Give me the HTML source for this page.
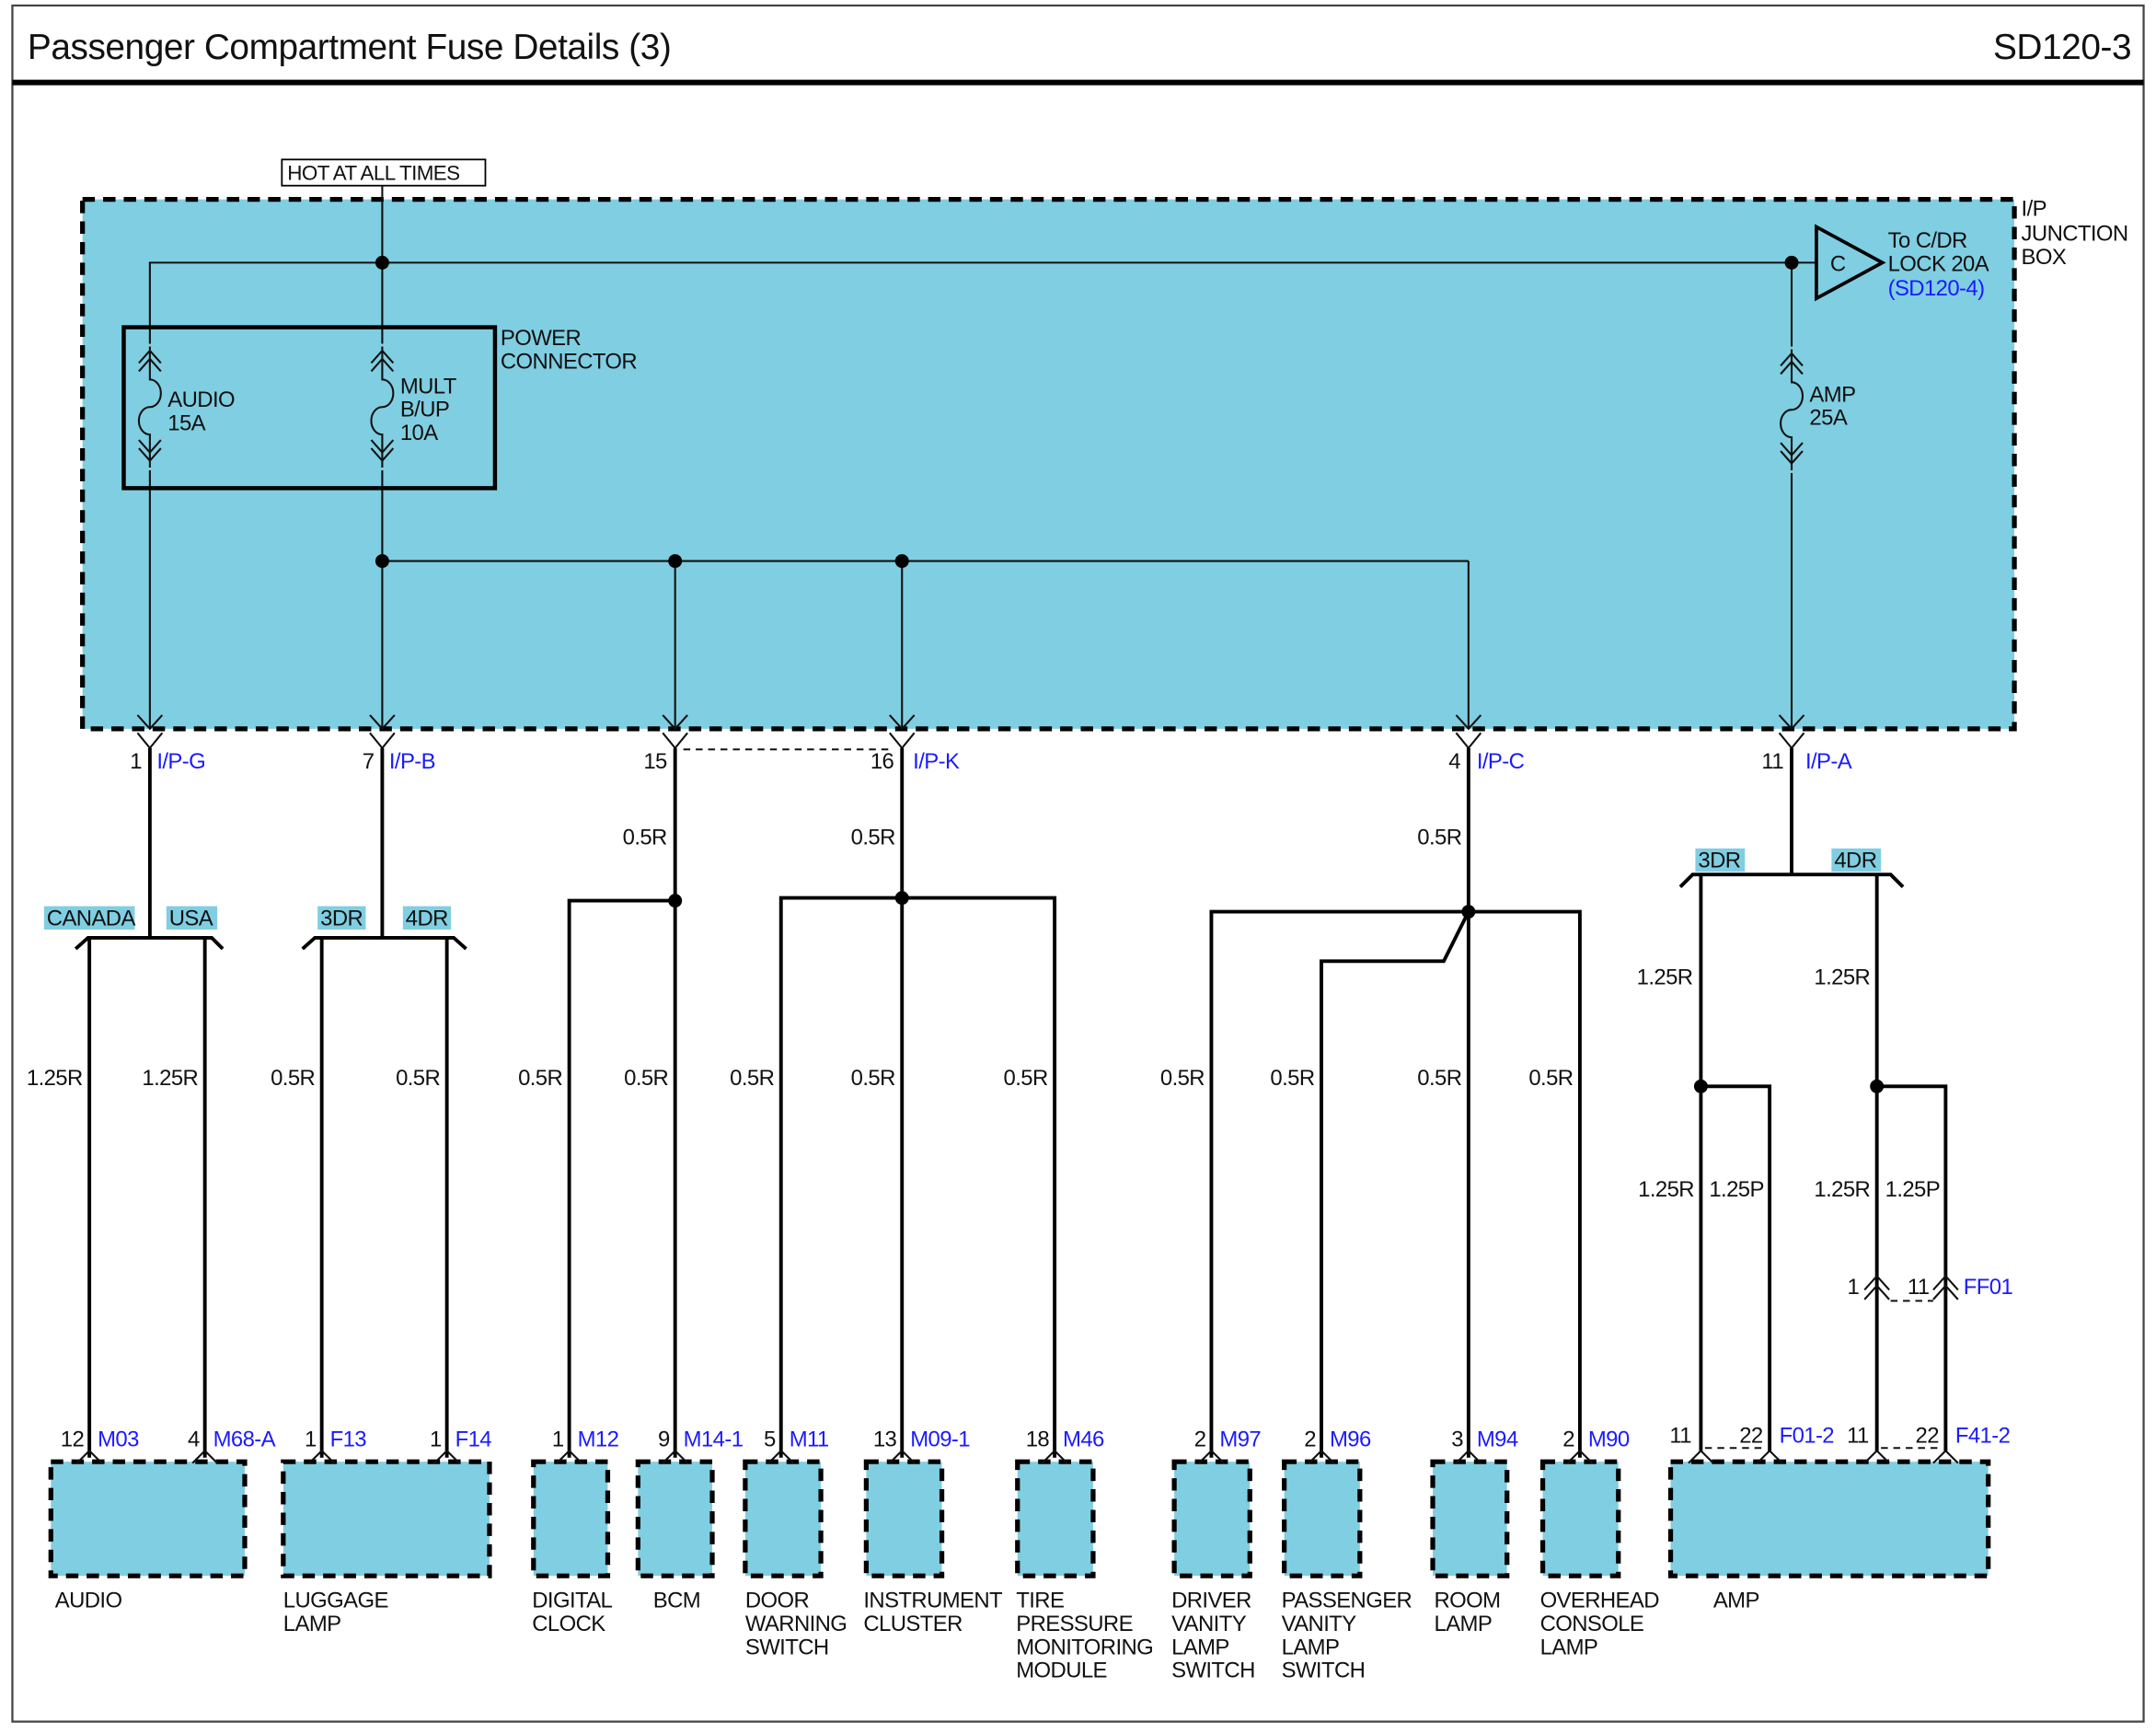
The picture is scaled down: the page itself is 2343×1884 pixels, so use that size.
<!DOCTYPE html>
<html><head><meta charset="utf-8"><style>
html,body{margin:0;padding:0;background:#fff}
svg{display:block}
text{font-family:"Liberation Sans",Arial,sans-serif;font-size:16px;fill:#111;letter-spacing:-0.4px}
.b{fill:#1a1aff}
.w{stroke:#000;stroke-width:2.6;fill:none}
.t{stroke:#111;stroke-width:1.4;fill:none}
.box{fill:#80cee1;stroke:#000;stroke-width:3.5;stroke-dasharray:9,6}
.tag{fill:#80cee1}
</style></head><body>
<svg width="2343" height="1884" viewBox="0 0 1568 1261" preserveAspectRatio="none" xmlns="http://www.w3.org/2000/svg">
<rect x="9" y="4" width="1550" height="1248" fill="#fff" stroke="#444" stroke-width="1.5"/>
<line x1="9" y1="60" x2="1559" y2="60" stroke="#000" stroke-width="4"/>
<text x="20" y="43" style="font-size:26px;letter-spacing:-0.3px">Passenger Compartment Fuse Details (3)</text>
<text x="1550" y="43" text-anchor="end" style="font-size:26px;letter-spacing:-0.3px">SD120-3</text>

<rect class="box" x="60" y="145" width="1405" height="385"/>
<rect x="205" y="116" width="148" height="19" fill="#fff" stroke="#000" stroke-width="1.2"/>
<text x="209" y="131" style="font-size:15px">HOT AT ALL TIMES</text>
<text x="1470" y="157">I/P</text><text x="1470" y="175">JUNCTION</text><text x="1470" y="192">BOX</text>

<g class="t">
<line x1="278" y1="135" x2="278" y2="530"/>
<polyline points="109,530 109,191 1320,191"/>
<line x1="1303" y1="191" x2="1303" y2="530"/>
<line x1="278" y1="408" x2="1068" y2="408"/>
<line x1="491" y1="408" x2="491" y2="530"/>
<line x1="656" y1="408" x2="656" y2="530"/>
<line x1="1068" y1="408" x2="1068" y2="530"/>
</g>
<g fill="#000"><circle cx="278" cy="191" r="5"/><circle cx="1303" cy="191" r="5"/><circle cx="278" cy="408" r="5"/><circle cx="491" cy="408" r="5"/><circle cx="656" cy="408" r="5"/></g>
<polygon points="1321,165 1321,217 1369,191" fill="#80cee1" stroke="#000" stroke-width="2.5"/>
<text x="1331" y="197">C</text>
<text x="1373" y="180">To C/DR</text><text x="1373" y="197">LOCK 20A</text><text x="1373" y="215" class="b">(SD120-4)</text>

<rect x="90" y="238" width="270" height="117" fill="none" stroke="#000" stroke-width="3"/>
<text x="364" y="251">POWER</text><text x="364" y="268">CONNECTOR</text>

<g fill="#80cee1">
<rect x="98" y="250" width="22" height="92"/>
<rect x="267" y="250" width="22" height="92"/>
<rect x="1292" y="252" width="22" height="92"/>
</g>
<g class="t">
<path d="M109,252 V276 a8,10 0 0 1 0,20 a8,10 0 0 0 0,20 V340 M101,264 L109,255 L117,264 M101,270 L109,261 L117,270 M101,320 L109,329 L117,320 M101,326 L109,335 L117,326"/>
<path d="M278,252 V276 a8,10 0 0 1 0,20 a8,10 0 0 0 0,20 V340 M270,264 L278,255 L286,264 M270,270 L278,261 L286,270 M270,320 L278,329 L286,320 M270,326 L278,335 L286,326"/>
<path d="M1303,254 V278 a8,10 0 0 1 0,20 a8,10 0 0 0 0,20 V342 M1295,266 L1303,257 L1311,266 M1295,272 L1303,263 L1311,272 M1295,322 L1303,331 L1311,322 M1295,328 L1303,337 L1311,328"/>
</g>
<text x="122" y="296">AUDIO</text><text x="122" y="313">15A</text>
<text x="291" y="286">MULT</text><text x="291" y="303">B/UP</text><text x="291" y="320">10A</text>
<text x="1316" y="292">AMP</text><text x="1316" y="309">25A</text>

<g class="t">
<path d="M100,520 L109,530 L118,520 M269,520 L278,530 L287,520 M482,520 L491,530 L500,520 M647,520 L656,530 L665,520 M1059,520 L1068,530 L1077,520 M1294,520 L1303,530 L1312,520"/>
<path d="M100,533 L109,544 L118,533 M269,533 L278,544 L287,533 M482,533 L491,544 L500,533 M647,533 L656,544 L665,533 M1059,533 L1068,544 L1077,533 M1294,533 L1303,544 L1312,533"/>
<line x1="497" y1="545" x2="650" y2="545" stroke-dasharray="5,4"/>
</g>
<text x="103" y="559" text-anchor="end">1</text><text x="114" y="559" class="b">I/P-G</text>
<text x="272" y="559" text-anchor="end">7</text><text x="283" y="559" class="b">I/P-B</text>
<text x="485" y="559" text-anchor="end">15</text>
<text x="650" y="559" text-anchor="end">16</text><text x="664" y="559" class="b">I/P-K</text>
<text x="1062" y="559" text-anchor="end">4</text><text x="1074" y="559" class="b">I/P-C</text>
<text x="1297" y="559" text-anchor="end">11</text><text x="1313" y="559" class="b">I/P-A</text>

<g class="w">
<line x1="109" y1="544" x2="109" y2="682"/>
<polyline points="55,690 64,682 154,682 162,690"/>
<line x1="65" y1="682" x2="65" y2="1060"/><line x1="149" y1="682" x2="149" y2="1060"/>
<line x1="278" y1="544" x2="278" y2="682"/>
<polyline points="220,690 229,682 330,682 339,690"/>
<line x1="234" y1="682" x2="234" y2="1060"/><line x1="325" y1="682" x2="325" y2="1060"/>
<line x1="491" y1="544" x2="491" y2="1060"/>
<polyline points="414,1060 414,655 491,655"/>
<line x1="656" y1="544" x2="656" y2="1060"/>
<polyline points="568,1060 568,653 767,653 767,1060"/>
<line x1="1068" y1="544" x2="1068" y2="1060"/>
<polyline points="881,1060 881,663 1149,663 1149,1060"/>
<polyline points="1068,663 1050,699 961,699 961,1060"/>
<line x1="1303" y1="544" x2="1303" y2="636"/>
<polyline points="1222,645 1231,636 1375,636 1384,645"/>
<line x1="1237" y1="636" x2="1237" y2="1056"/>
<polyline points="1237,790 1287,790 1287,1056"/>
<line x1="1365" y1="636" x2="1365" y2="1056"/>
<polyline points="1365,790 1415,790 1415,1056"/>
</g>
<g fill="#000">
<circle cx="491" cy="655" r="5"/><circle cx="656" cy="653" r="5"/><circle cx="1068" cy="663" r="5"/>
<circle cx="1237" cy="790" r="5"/><circle cx="1365" cy="790" r="5"/>
</g>
<rect class="tag" x="32" y="659" width="66" height="17"/><text x="34" y="673">CANADA</text>
<rect class="tag" x="121" y="659" width="37" height="17"/><text x="123" y="673">USA</text>
<rect class="tag" x="231" y="659" width="35" height="17"/><text x="233" y="673">3DR</text>
<rect class="tag" x="293" y="659" width="35" height="17"/><text x="295" y="673">4DR</text>
<rect class="tag" x="1233" y="617" width="36" height="17"/><text x="1235" y="631">3DR</text>
<rect class="tag" x="1332" y="617" width="36" height="17"/><text x="1334" y="631">4DR</text>

<g text-anchor="end">
<text x="60" y="789">1.25R</text><text x="144" y="789">1.25R</text>
<text x="229" y="789">0.5R</text><text x="320" y="789">0.5R</text>
<text x="485" y="614">0.5R</text><text x="409" y="789">0.5R</text><text x="486" y="789">0.5R</text>
<text x="651" y="614">0.5R</text><text x="563" y="789">0.5R</text><text x="651" y="789">0.5R</text><text x="762" y="789">0.5R</text>
<text x="1063" y="614">0.5R</text><text x="876" y="789">0.5R</text><text x="956" y="789">0.5R</text><text x="1063" y="789">0.5R</text><text x="1144" y="789">0.5R</text>
<text x="1231" y="716">1.25R</text><text x="1360" y="716">1.25R</text>
<text x="1232" y="870">1.25R</text><text x="1360" y="870">1.25R</text>
</g>
<text x="1243" y="870">1.25P</text><text x="1371" y="870">1.25P</text>

<g class="t" stroke-width="1.6">
<path d="M1356,938 L1365,928 L1374,938 M1356,945 L1365,935 L1374,945 M1406,938 L1415,928 L1424,938 M1406,945 L1415,935 L1424,945"/>
<line x1="1375" y1="946" x2="1406" y2="946" stroke-dasharray="5,4"/>
</g>
<text x="1352" y="941" text-anchor="end">1</text><text x="1403" y="941" text-anchor="end">11</text><text x="1428" y="941" class="b">FF01</text>

<rect class="box" x="37" y="1063" width="141" height="83"/>
<rect class="box" x="206" y="1063" width="150" height="83"/>
<rect class="box" x="388" y="1063" width="54" height="83"/>
<rect class="box" x="464" y="1063" width="54" height="83"/>
<rect class="box" x="542" y="1063" width="55" height="83"/>
<rect class="box" x="630" y="1063" width="55" height="83"/>
<rect class="box" x="740" y="1063" width="55" height="83"/>
<rect class="box" x="854" y="1063" width="55" height="83"/>
<rect class="box" x="934" y="1063" width="55" height="83"/>
<rect class="box" x="1042" y="1063" width="54" height="83"/>
<rect class="box" x="1122" y="1063" width="55" height="83"/>
<rect class="box" x="1215" y="1063" width="231" height="83"/>

<g class="t" stroke-width="1.8">
<path d="M56,1064 L65,1055 L74,1064 M140,1064 L149,1055 L158,1064 M225,1064 L234,1055 L243,1064 M316,1064 L325,1055 L334,1064 M405,1064 L414,1055 L423,1064 M482,1064 L491,1055 L500,1064 M559,1064 L568,1055 L577,1064 M647,1064 L656,1055 L665,1064 M758,1064 L767,1055 L776,1064 M872,1064 L881,1055 L890,1064 M952,1064 L961,1055 L970,1064 M1059,1064 L1068,1055 L1077,1064 M1140,1064 L1149,1055 L1158,1064"/>
<path d="M1228,1064 L1237,1055 L1246,1064 M1278,1064 L1287,1055 L1296,1064 M1356,1064 L1365,1055 L1374,1064 M1406,1064 L1415,1055 L1424,1064"/>
<line x1="1240" y1="1053" x2="1284" y2="1053" stroke-dasharray="5,4"/>
<line x1="1368" y1="1053" x2="1412" y2="1053" stroke-dasharray="5,4"/>
</g>
<g text-anchor="end">
<text x="61" y="1052">12</text><text x="145" y="1052">4</text><text x="230" y="1052">1</text><text x="321" y="1052">1</text>
<text x="410" y="1052">1</text><text x="487" y="1052">9</text><text x="564" y="1052">5</text><text x="652" y="1052">13</text><text x="763" y="1052">18</text>
<text x="877" y="1052">2</text><text x="957" y="1052">2</text><text x="1064" y="1052">3</text><text x="1145" y="1052">2</text>
<text x="1230" y="1049">11</text><text x="1282" y="1049">22</text><text x="1359" y="1049">11</text><text x="1410" y="1049">22</text>
</g>
<g>
<text x="71" y="1052" class="b">M03</text><text x="155" y="1052" class="b">M68-A</text>
<text x="240" y="1052" class="b">F13</text><text x="331" y="1052" class="b">F14</text>
<text x="420" y="1052" class="b">M12</text><text x="497" y="1052" class="b">M14-1</text>
<text x="574" y="1052" class="b">M11</text><text x="662" y="1052" class="b">M09-1</text><text x="773" y="1052" class="b">M46</text>
<text x="887" y="1052" class="b">M97</text><text x="967" y="1052" class="b">M96</text><text x="1074" y="1052" class="b">M94</text><text x="1155" y="1052" class="b">M90</text>
<text x="1294" y="1049" class="b">F01-2</text><text x="1422" y="1049" class="b">F41-2</text>
</g>

<text x="40" y="1169">AUDIO</text>
<text x="206" y="1169">LUGGAGE</text><text x="206" y="1186">LAMP</text>
<text x="387" y="1169">DIGITAL</text><text x="387" y="1186">CLOCK</text>
<text x="475" y="1169">BCM</text>
<text x="542" y="1169">DOOR</text><text x="542" y="1186">WARNING</text><text x="542" y="1203">SWITCH</text>
<text x="628" y="1169">INSTRUMENT</text><text x="628" y="1186">CLUSTER</text>
<text x="739" y="1169">TIRE</text><text x="739" y="1186">PRESSURE</text><text x="739" y="1203">MONITORING</text><text x="739" y="1220">MODULE</text>
<text x="852" y="1169">DRIVER</text><text x="852" y="1186">VANITY</text><text x="852" y="1203">LAMP</text><text x="852" y="1220">SWITCH</text>
<text x="932" y="1169">PASSENGER</text><text x="932" y="1186">VANITY</text><text x="932" y="1203">LAMP</text><text x="932" y="1220">SWITCH</text>
<text x="1043" y="1169">ROOM</text><text x="1043" y="1186">LAMP</text>
<text x="1120" y="1169">OVERHEAD</text><text x="1120" y="1186">CONSOLE</text><text x="1120" y="1203">LAMP</text>
<text x="1246" y="1169">AMP</text>
</svg>
</body></html>
